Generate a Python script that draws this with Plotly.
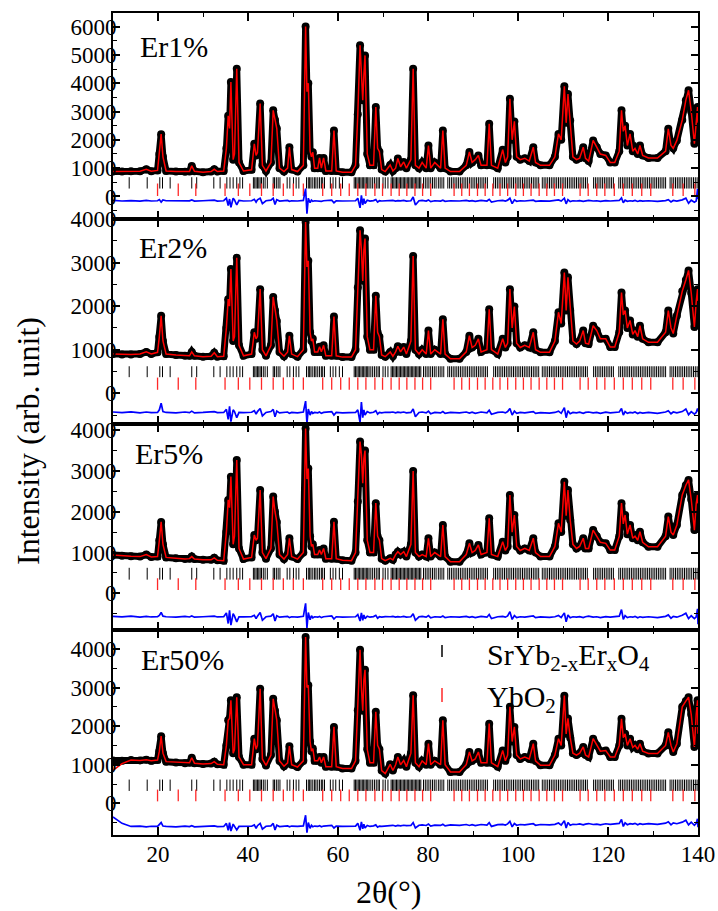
import plotly.graph_objects as go
from plotly.subplots import make_subplots

# ---------------- data ----------------
two_theta = [10.0, 12.0, 14.0, 16.0, 17.4, 18.5, 19.9, 20.3, 20.7, 21.1,
             21.8, 24.0, 26.0, 27.0, 27.5, 28.1, 30.0, 31.8, 32.5, 33.2,
             34.6, 35.2, 35.6, 35.9, 36.2, 36.7, 37.0, 37.5, 38.0, 39.0,
             40.8, 41.4, 41.8, 42.1, 42.7, 43.2, 44.0, 45.1, 45.6, 46.0,
             46.4, 47.0, 48.0, 48.8, 49.2, 49.7, 51.0, 52.3, 52.8, 53.1,
             53.4, 53.8, 54.1, 54.4, 54.8, 55.5, 55.9, 56.3, 56.8, 57.3,
             58.6, 59.1, 59.6, 61.0, 63.0, 63.9, 64.4, 64.9, 65.2, 65.5,
             65.75, 66.0, 66.5, 67.1, 67.9, 68.4, 68.8, 69.2, 69.7, 70.5,
             71.6, 72.2, 72.8, 73.3, 73.9, 74.6, 75.2, 76.2, 76.7, 77.2,
             78.0, 78.7, 79.6, 80.1, 80.6, 81.5, 82.8, 83.3, 83.8, 85.0,
             87.0, 88.5, 89.2, 89.8, 90.5, 91.2, 91.8, 93.1, 93.6, 94.1,
             95.5, 96.6, 97.2, 97.7, 98.2, 98.7, 99.2, 99.7, 100.5, 101.5,
             102.5, 103.4, 103.9, 105.0, 107.0, 108.2, 109.0, 109.6, 110.3, 110.7,
             111.1, 111.6, 112.2, 113.0, 113.7, 114.5, 115.0, 115.7, 116.7, 117.5,
             118.3, 119.5, 120.5, 121.5, 122.5, 123.0, 123.4, 123.8, 124.3, 124.9,
             125.5, 126.0, 126.6, 127.1, 127.7, 129.0, 131.0, 132.8, 133.4, 134.0,
             134.5, 135.3, 136.5, 137.3, 137.9, 138.5, 139.2, 139.6, 139.9, 140.0]

er1_obs = [880, 880, 890, 890, 960, 890, 920, 1500, 2200, 1400,
           900, 880, 870, 880, 1080, 890, 860, 880, 960, 880,
           900, 1700, 2850, 2400, 4040, 1300, 1500, 4510, 1200, 900,
           940, 1860, 1450, 1550, 3280, 1100, 900, 1200, 3040, 2700,
           2400, 1000, 880, 1000, 1740, 950, 880, 1100, 6000, 3700,
           4000, 1600, 1400, 1560, 1000, 1000, 1360, 1000, 1360, 900,
           900, 2330, 900, 860, 860, 1100, 2900, 5340, 4500, 3400,
           4300, 4980, 1500, 1100, 1100, 3160, 1700, 1580, 950, 880,
           1110, 900, 1000, 1340, 1050, 1220, 1000, 1300, 4510, 1100,
           1000, 1200, 1000, 1800, 1000, 1200, 1000, 2330, 1000, 880,
           880, 1100, 1570, 1200, 1300, 1450, 1100, 1100, 2570, 1100,
           1000, 1650, 1200, 1400, 3450, 2000, 2650, 1400, 1300, 1350,
           1250, 1740, 1200, 1100, 1100, 1400, 2210, 2000, 3890, 2600,
           3620, 2680, 1400, 1300, 1350, 1740, 1350, 1250, 1980, 1740,
           1500, 1450, 1200, 1200, 1600, 3040, 2300, 2500, 1800, 2210,
           1600, 1700, 1500, 1800, 1450, 1360, 1360, 1600, 2390, 1800,
           1700, 1980, 2700, 3400, 3750, 3000, 1860, 2600, 3160, 2600]

er2_obs = [900, 890, 890, 900, 950, 900, 940, 1300, 1780, 1200,
           900, 880, 860, 860, 950, 860, 840, 850, 930, 840,
           850, 1500, 2160, 2000, 2850, 1200, 1300, 3110, 1100, 860,
           900, 1400, 1250, 1300, 2390, 1000, 860, 1100, 2210, 1900,
           1660, 950, 850, 950, 1320, 900, 840, 1000, 3930, 2900,
           3040, 1400, 1200, 1250, 950, 950, 1070, 950, 1100, 860,
           860, 1760, 860, 830, 830, 1000, 2430, 3740, 3300, 2580,
           3300, 3550, 1300, 1000, 1000, 2240, 1400, 1300, 880, 840,
           950, 850, 950, 1080, 950, 1060, 900, 1200, 3150, 1000,
           900, 1000, 900, 1440, 900, 1000, 900, 1700, 900, 790,
           790, 950, 1320, 1050, 1100, 1250, 950, 1000, 1930, 1000,
           900, 1250, 1050, 1150, 2390, 1500, 1990, 1150, 1050, 1100,
           1050, 1400, 1000, 940, 940, 1200, 1860, 1600, 2770, 1900,
           2660, 1900, 1200, 1130, 1200, 1440, 1150, 1130, 1550, 1440,
           1250, 1250, 1060, 1060, 1400, 2310, 1800, 1900, 1500, 1670,
           1350, 1440, 1300, 1550, 1250, 1170, 1170, 1400, 1900, 1500,
           1370, 1780, 2340, 2600, 2820, 2300, 1520, 2100, 2390, 2120]

er5_obs = [940, 920, 910, 900, 950, 890, 900, 1300, 1750, 1200,
           880, 860, 840, 850, 900, 840, 820, 820, 870, 810,
           800, 1500, 2290, 2100, 2860, 1200, 1400, 3270, 1100, 840,
           880, 1430, 1300, 1350, 2530, 1000, 850, 1100, 2370, 2000,
           1750, 950, 840, 950, 1350, 900, 840, 1000, 4040, 2800,
           3060, 1400, 1150, 1200, 950, 950, 1060, 950, 1100, 850,
           850, 1755, 850, 810, 800, 1000, 2250, 3720, 3400, 2700,
           3300, 3500, 1300, 1000, 1000, 2210, 1400, 1300, 850, 800,
           860, 820, 950, 1020, 950, 1020, 900, 1200, 3000, 1000,
           900, 950, 900, 1350, 900, 1000, 900, 1675, 900, 775,
           775, 950, 1225, 1000, 1050, 1185, 950, 1000, 1840, 950,
           900, 1265, 1050, 1150, 2410, 1500, 1920, 1150, 1050, 1100,
           1050, 1350, 1000, 900, 900, 1150, 1715, 1500, 2735, 1900,
           2530, 1800, 1200, 1100, 1150, 1350, 1100, 1100, 1550, 1400,
           1250, 1225, 1060, 1060, 1400, 2210, 1700, 1920, 1450, 1675,
           1350, 1400, 1300, 1510, 1250, 1140, 1140, 1400, 1880, 1500,
           1430, 1675, 2410, 2650, 2780, 2300, 1550, 2200, 2410, 2200]

er50_obs = [1110, 1100, 1120, 1110, 1130, 1100, 1120, 1350, 1740, 1300,
            1080, 1060, 1040, 1050, 1180, 1040, 1020, 1030, 1080, 1010,
            1000, 1500, 2150, 2200, 2670, 1300, 1400, 2750, 1200, 1000,
            1000, 1675, 1400, 1500, 2970, 1150, 980, 1250, 2710, 2400,
            2150, 1100, 960, 1050, 1480, 1000, 940, 1100, 4310, 3000,
            3060, 1600, 1350, 1420, 1100, 1100, 1200, 1050, 1200, 950,
            950, 1980, 950, 900, 900, 1100, 2410, 3980, 3000, 2400,
            3200, 3460, 1400, 1050, 1050, 2370, 1500, 1400, 850, 770,
            1010, 850, 1000, 1200, 1000, 1110, 950, 1300, 2800, 1050,
            950, 1100, 1000, 1545, 1000, 1100, 1000, 2150, 1000, 810,
            810, 1000, 1330, 1100, 1150, 1330, 1050, 1050, 2065, 1050,
            950, 1370, 1100, 1250, 2500, 1600, 1980, 1250, 1150, 1200,
            1150, 1545, 1100, 985, 985, 1250, 1675, 1500, 2790, 1800,
            2200, 1700, 1300, 1250, 1300, 1460, 1250, 1200, 1675, 1500,
            1350, 1370, 1200, 1200, 1500, 2190, 1700, 1800, 1500, 1675,
            1450, 1500, 1400, 1545, 1350, 1290, 1290, 1500, 1840, 1500,
            1330, 1545, 2500, 2650, 2750, 2300, 1460, 2300, 2670, 1800]

# calculated profile of Er50% starts lower than the observed one
er50_calc_head = [855, 1030]

er1_diff = [-140, -160, -145, -165, -140, -160, -150, -110, -200, -120,
            -150, -160, -145, -155, -120, -160, -150, -140, -130, -160,
            -150, -60, -320, -90, -380, -60, -120, -300, -140, -160,
            -150, -100, -200, -120, -60, -250, -150, -130, -60, -280,
            -110, -160, -150, -140, -170, -150, -160, -140, 280, -610,
            -60, -220, -130, -170, -150, -160, -140, -170, -150, -145,
            -130, -220, -150, -160, -145, -150, -60, -400, 40, -300,
            -80, -250, -130, -160, -145, -110, -200, -150, -160, -145,
            -150, -140, -160, -145, -155, -140, -160, -150, -20, -300,
            -150, -140, -160, -120, -180, -150, -160, -130, -170, -150,
            -160, -140, -165, -145, -170, -150, -140, -160, -100, -200,
            -150, -140, -160, -130, -60, -250, -120, -170, -150, -160,
            -145, -130, -170, -155, -165, -150, -120, -160, -60, -260,
            -110, -180, -150, -160, -145, -170, -150, -140, -160, -150,
            -170, -145, -160, -150, -140, -50, -220, -130, -170, -150,
            -160, -140, -175, -150, -165, -150, -170, -145, -110, -190,
            -140, -160, -120, -60, -240, -130, -200, -160, 270, -100]

er2_diff = [-430, -445, -425, -450, -430, -445, -440, -380, -230, -420,
            -440, -450, -430, -445, -410, -450, -440, -430, -420, -445,
            -440, -370, -600, -300, -650, -380, -420, -560, -440, -445,
            -435, -400, -480, -420, -350, -520, -440, -420, -370, -540,
            -410, -450, -440, -430, -460, -440, -450, -430, -180, -690,
            -360, -500, -420, -460, -440, -450, -430, -460, -440, -435,
            -420, -500, -440, -450, -435, -440, -380, -670, -200, -560,
            -380, -500, -420, -450, -435, -400, -480, -440, -450, -435,
            -440, -430, -450, -435, -445, -430, -450, -440, -360, -540,
            -440, -430, -450, -410, -470, -440, -450, -420, -460, -440,
            -450, -430, -455, -435, -460, -440, -430, -450, -390, -480,
            -440, -430, -450, -420, -350, -500, -410, -460, -440, -450,
            -435, -420, -460, -445, -455, -440, -410, -460, -330, -560,
            -400, -470, -440, -450, -435, -460, -440, -430, -450, -440,
            -460, -435, -450, -440, -430, -350, -500, -420, -460, -440,
            -450, -430, -465, -440, -455, -440, -460, -430, -400, -470,
            -430, -450, -420, -360, -490, -420, -480, -440, -350, -420]

er5_diff = [-565, -580, -560, -585, -565, -580, -575, -540, -470, -560,
            -575, -585, -565, -580, -555, -585, -575, -565, -560, -580,
            -575, -480, -740, -420, -780, -500, -560, -700, -575, -580,
            -570, -540, -620, -560, -470, -660, -575, -560, -500, -680,
            -550, -585, -575, -565, -595, -575, -585, -565, -245, -850,
            -470, -650, -550, -600, -575, -585, -565, -595, -575, -570,
            -555, -630, -575, -585, -570, -575, -520, -680, -480, -660,
            -530, -620, -560, -585, -570, -540, -610, -575, -585, -570,
            -575, -565, -585, -570, -580, -565, -585, -575, -500, -660,
            -575, -565, -585, -545, -600, -575, -585, -555, -595, -575,
            -585, -565, -590, -570, -595, -575, -565, -585, -520, -620,
            -575, -565, -585, -555, -450, -640, -545, -595, -575, -585,
            -570, -555, -595, -580, -590, -575, -545, -595, -480, -700,
            -530, -600, -575, -585, -570, -595, -575, -560, -585, -575,
            -595, -570, -585, -575, -560, -400, -640, -545, -595, -575,
            -585, -565, -600, -575, -590, -575, -595, -565, -530, -610,
            -565, -585, -540, -490, -620, -550, -620, -575, -380, -760]

er50_diff = [-355, -520, -600, -590, -610, -595, -600, -560, -500, -590,
             -600, -610, -590, -605, -580, -610, -600, -590, -585, -605,
             -600, -520, -700, -500, -720, -540, -590, -690, -600, -605,
             -595, -560, -650, -580, -520, -670, -595, -585, -520, -690,
             -570, -605, -595, -585, -610, -590, -600, -585, -310, -760,
             -500, -650, -570, -610, -590, -600, -580, -610, -590, -585,
             -570, -640, -590, -600, -585, -590, -520, -700, -480, -660,
             -540, -640, -575, -600, -585, -560, -620, -590, -600, -585,
             -580, -570, -590, -575, -585, -570, -580, -575, -500, -640,
             -570, -560, -575, -540, -590, -565, -575, -545, -585, -560,
             -570, -550, -575, -555, -580, -560, -550, -565, -500, -600,
             -555, -545, -565, -535, -470, -610, -525, -570, -550, -560,
             -545, -530, -570, -550, -560, -545, -510, -565, -450, -640,
             -500, -570, -545, -550, -535, -560, -540, -525, -550, -540,
             -560, -530, -545, -535, -520, -420, -600, -505, -555, -530,
             -540, -520, -555, -530, -545, -525, -545, -515, -480, -560,
             -510, -530, -490, -440, -560, -490, -570, -520, -400, -620]

# Bragg reflection positions (2theta, degrees)
ybo2_ticks = [19.9, 24.5, 28.4, 34.9, 37.85, 40.4, 43.0, 45.6, 47.85, 50.07,
              52.3, 56.6, 58.6, 60.6, 62.5, 64.4, 66.2, 68.2, 69.9, 71.8,
              73.6, 75.3, 77.1, 78.8, 80.6, 85.8, 87.5, 89.2, 91.0, 92.7,
              94.4, 96.0, 97.7, 99.5, 101.2, 102.9, 104.7, 106.4, 108.1, 109.9,
              113.8, 115.6, 117.5, 119.3, 121.4, 123.4, 125.4, 127.5, 129.5, 134.4,
              136.7, 139.3]

sryb_ticks = [13.6, 17.6, 20.4, 21.0, 22.7, 27.5, 28.6, 32.4, 33.8, 35.3,
              36.0, 36.7, 37.5, 38.2, 38.8,
              41.2, 41.5, 41.8, 42.1, 42.4, 42.7, 43.0, 43.4, 43.8, 44.3,
              45.6, 45.9, 46.3, 46.7, 47.1, 48.7, 49.3, 50.1, 50.7, 51.3,
              53.0, 53.4, 53.7, 54.0, 54.4, 54.8, 55.1, 55.5, 55.9, 56.3, 56.6, 57.0,
              58.3, 58.9, 59.5, 60.3, 61.0,
              63.6, 63.9, 64.2, 64.5, 64.8, 65.1, 65.4, 65.7, 66.0, 66.3, 66.6, 66.9,
              67.3, 67.7, 68.1, 68.5, 68.9, 69.2, 70.0, 70.5, 71.1,
              71.8, 72.1, 72.4, 72.7, 73.0, 73.3, 73.6, 73.9, 74.2, 74.5, 74.8, 75.1,
              75.4, 75.7, 76.0, 76.3, 76.6, 76.9, 77.2, 77.5, 77.8, 78.1, 78.4,
              79.0, 79.4, 79.8, 80.2, 80.6, 81.0, 81.4, 81.8, 82.3, 82.7, 83.1, 83.5,
              84.4, 84.8, 85.2, 85.6, 86.0, 86.4, 86.8, 87.2, 87.6, 88.0, 88.4, 88.8,
              89.2, 89.6, 90.0, 90.4, 90.8, 91.2, 91.6, 92.0, 92.4, 92.8, 93.2,
              94.6, 95.0, 95.4, 95.8, 96.2, 96.6, 97.0, 97.4, 97.8, 98.2, 98.6, 99.0,
              99.4, 99.8, 100.2, 100.6, 101.0, 101.4, 101.8, 102.2, 102.6, 103.0, 103.4,
              103.8, 104.2, 104.6, 105.4, 105.8, 106.2, 106.6, 107.0, 107.4, 107.8,
              108.2, 108.6, 109.0, 109.4, 109.8, 110.2, 110.6, 111.0, 111.4, 111.8,
              112.2, 112.6, 113.0, 113.4, 113.8, 114.2, 114.6, 115.0, 115.4,
              116.8, 117.2, 117.6, 118.0, 118.4, 118.8, 119.2, 119.6, 120.0, 120.4,
              120.8, 121.2, 122.4, 122.8, 123.2, 123.6, 124.0, 124.4, 124.8, 125.2,
              125.6, 126.0, 126.4, 126.8, 127.2, 127.6, 128.0, 128.4, 128.8, 129.2,
              129.6, 130.0, 130.4, 130.8, 131.2, 131.6, 132.0, 132.4, 132.8,
              133.8, 134.2, 134.6, 135.0, 135.4, 135.8, 136.2, 136.6, 137.0, 137.4,
              137.8, 138.2, 138.6, 139.0, 139.4, 139.8]

panel_names = ["Er1%", "Er2%", "Er5%", "Er50%"]
x_ticks = [20, 40, 60, 80, 100, 120, 140]

for arr in (er1_obs, er2_obs, er5_obs, er50_obs, er1_diff, er2_diff, er5_diff, er50_diff):
    assert len(arr) == len(two_theta), len(arr)

# ---------------- figure ----------------
obs = [er1_obs, er2_obs, er5_obs, er50_obs]
calc = [er1_obs, er2_obs, er5_obs, er50_calc_head + er50_obs[len(er50_calc_head):]]
diff = [er1_diff, er2_diff, er5_diff, er50_diff]

y_ranges = [[-777, 6477], [-705, 4011], [-887, 4150], [-822, 4505]]
black_span = [(280, 680), (370, 620), (335, 625), (320, 615)]
red_span = [(20, 460), (80, 360), (80, 370), (50, 355)]
label_pos = [(138, 47), (137, 247), (133, 453), (139, 659)]  # pixel positions

FONT = "Liberation Serif"
L, R, T, B = 113, 20, 13, 76
W, H = 718, 911
PW, PH = W - L - R, H - T - B


def px(xp):
    return (xp - L) / PW


def py(yp):
    return (H - B - yp) / PH


def tick_xy(pos, lo, hi):
    xs, ys = [], []
    for p in pos:
        xs += [p, p, None]
        ys += [lo, hi, None]
    return xs, ys


fig = make_subplots(rows=4, cols=1, shared_xaxes=True, vertical_spacing=0)

for i in range(4):
    r = i + 1
    bx, by = tick_xy(sryb_ticks, *black_span[i])
    fig.add_trace(go.Scatter(x=bx, y=by, mode="lines", line=dict(color="black", width=1),
                             hoverinfo="skip", showlegend=False), row=r, col=1)
    rx, ry = tick_xy(ybo2_ticks, *red_span[i])
    fig.add_trace(go.Scatter(x=rx, y=ry, mode="lines", line=dict(color="rgb(255,40,40)", width=1.3),
                             hoverinfo="skip", showlegend=False), row=r, col=1)
    fig.add_trace(go.Scatter(x=two_theta, y=diff[i], mode="lines",
                             line=dict(color="#0000ff", width=1.7), showlegend=False), row=r, col=1)
    fig.add_trace(go.Scatter(x=two_theta, y=obs[i], mode="lines+markers",
                             line=dict(color="black", width=7),
                             marker=dict(color="black", size=8), showlegend=False), row=r, col=1)
    fig.add_trace(go.Scatter(x=two_theta, y=calc[i], mode="lines",
                             line=dict(color="#ff0000", width=1.5), showlegend=False), row=r, col=1)

    fig.update_yaxes(row=r, col=1, range=y_ranges[i], tickmode="linear", tick0=0, dtick=1000,
                     ticks="inside", ticklen=7, tickwidth=1.5, tickcolor="black",
                     minor=dict(dtick=500, ticks="inside", ticklen=4, tickcolor="black", tickwidth=1.2),
                     mirror="ticks", showline=True, linecolor="black", linewidth=2,
                     showgrid=False, zeroline=False, ticklabelstandoff=-10, automargin=False,
                     tickfont=dict(family=FONT, size=23, color="black"))
    fig.update_xaxes(row=r, col=1, range=[10, 140], tickmode="array", tickvals=x_ticks,
                     ticks="inside", ticklen=8, tickwidth=1.5, tickcolor="black",
                     minor=dict(dtick=10, tick0=0, ticks="inside", ticklen=4, tickcolor="black", tickwidth=1.2),
                     mirror="ticks", showline=True, linecolor="black", linewidth=2,
                     showgrid=False, zeroline=False, ticklabelstandoff=-3, automargin=False,
                     tickfont=dict(family=FONT, size=23, color="black"))

annotations = []
for name, (lx, ly) in zip(panel_names, label_pos):
    annotations.append(dict(text=name, x=px(lx), y=py(ly), xref="paper", yref="paper",
                            xanchor="left", yanchor="middle", showarrow=False,
                            font=dict(family=FONT, size=30, color="black")))

annotations.append(dict(text="SrYb<sub>2-x</sub>Er<sub>x</sub>O<sub>4</sub>", x=px(485), y=py(657),
                        xref="paper", yref="paper", xanchor="left", yanchor="middle", showarrow=False,
                        font=dict(family=FONT, size=30, color="black")))
annotations.append(dict(text="YbO<sub>2</sub>", x=px(485), y=py(699),
                        xref="paper", yref="paper", xanchor="left", yanchor="middle", showarrow=False,
                        font=dict(family=FONT, size=30, color="black")))
annotations.append(dict(text="Intensity (arb. unit)", x=px(28), y=py(441), xref="paper", yref="paper",
                        xanchor="center", yanchor="middle", textangle=-90, showarrow=False,
                        font=dict(family=FONT, size=32, color="black")))
annotations.append(dict(text="2θ(°)", x=px(388), y=py(892), xref="paper", yref="paper",
                        xanchor="center", yanchor="middle", showarrow=False,
                        font=dict(family=FONT, size=32, color="black")))

shapes = [
    dict(type="line", xref="paper", yref="paper", x0=px(442), x1=px(442), y0=py(645), y1=py(657),
         line=dict(color="black", width=1.5)),
    dict(type="line", xref="paper", yref="paper", x0=px(442), x1=px(442), y0=py(688), y1=py(702),
         line=dict(color="rgb(255,40,40)", width=1.5)),
]

fig.update_layout(width=W, height=H, margin=dict(l=L, r=R, t=T, b=B, autoexpand=False),
                  paper_bgcolor="white", plot_bgcolor="white",
                  annotations=annotations, shapes=shapes, showlegend=False,
                  font=dict(family=FONT, color="black"))

# remove the browser's default page margin so the figure sits at the window origin
fig.write_html("out.html", config={"displayModeBar": False},
               post_script="document.body.style.margin='0';document.body.style.overflow='hidden';")
